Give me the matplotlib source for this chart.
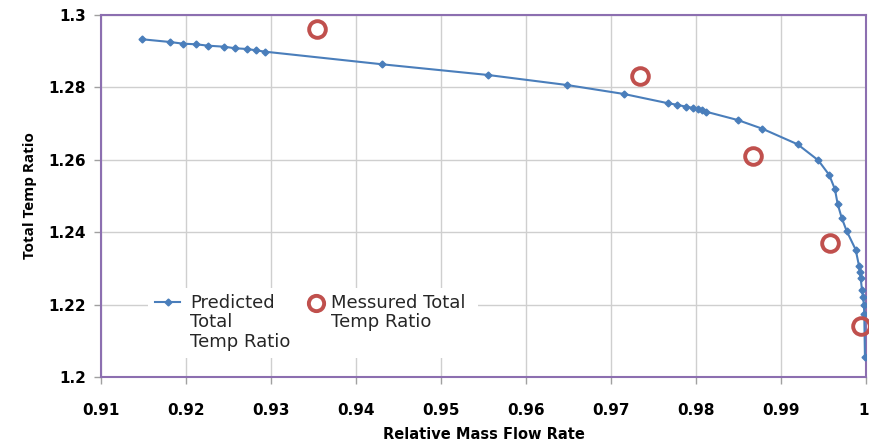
import matplotlib
matplotlib.use('Agg')
import matplotlib.pyplot as plt
import matplotlib.transforms as mtransforms
from matplotlib.patches import Rectangle

# ── Data ──────────────────────────────────────────────────────────────────────
pred_x = [0.91486, 0.91812, 0.91968, 0.92118, 0.92262, 0.92451, 0.92580, 0.92721,
          0.92820, 0.92933, 0.94309, 0.95553, 0.96482, 0.97153, 0.97674, 0.97773,
          0.97882, 0.97968, 0.98027, 0.98067, 0.98118, 0.98491, 0.98780, 0.99196,
          0.99439, 0.99568, 0.99635, 0.99667, 0.99714, 0.99773, 0.99879, 0.99918,
          0.99929, 0.99938, 0.99953, 0.99965, 0.99976, 0.99980, 0.99988]
pred_y = [1.29329, 1.29254, 1.29207, 1.29191, 1.29152, 1.29124, 1.29080, 1.29061,
          1.29025, 1.28986, 1.28638, 1.28343, 1.28066, 1.27818, 1.27561, 1.27522,
          1.27467, 1.27431, 1.27395, 1.27367, 1.27329, 1.27099, 1.26859, 1.26428,
          1.25986, 1.25580, 1.25185, 1.24779, 1.24401, 1.24033, 1.23517, 1.23072,
          1.22890, 1.22732, 1.22409, 1.22210, 1.21989, 1.21740, 1.20552]

meas_x = [0.93541, 0.97341, 0.98671, 0.99576, 0.99941]
meas_y = [1.29613, 1.28315, 1.26105, 1.23702, 1.21409]

x_ticks = [0.91, 0.92, 0.93, 0.94, 0.95, 0.96, 0.97, 0.98, 0.99, 1.0]
x_labels = ['0.91', '0.92', '0.93', '0.94', '0.95', '0.96', '0.97', '0.98', '0.99', '1']
y_ticks = [1.2, 1.22, 1.24, 1.26, 1.28, 1.3]
y_labels = ['1.2', '1.22', '1.24', '1.26', '1.28', '1.3']

pred_label = 'Predicted\nTotal\nTemp Ratio'
meas_label = 'Messured Total\nTemp Ratio'

BLUE = '#4A7EBB'
RED = '#C0504D'

# ── Figure ────────────────────────────────────────────────────────────────────
plt.rcParams['font.family'] = ['DejaVu Sans']

fig = plt.figure(figsize=(8.69, 4.41), dpi=100)
ax = fig.add_axes([0.1162, 0.1451, 0.8803, 0.8209])

ax.plot(pred_x, pred_y, color=BLUE, lw=1.5, marker='D', ms=3.5, zorder=3)
ax.plot(meas_x, meas_y, ls='none', marker='o', ms=12, mfc='none',
        mec=RED, mew=2.8, zorder=4, clip_on=False)

ax.set_xlim(0.91, 1.0)
ax.set_ylim(1.2, 1.3)
ax.set_xticks(x_ticks)
ax.set_xticklabels(x_labels, fontsize=11, fontweight='bold')
ax.set_yticks(y_ticks)
ax.set_yticklabels(y_labels, fontsize=11, fontweight='bold')
ax.tick_params(axis='both', direction='out', length=5, color='#A0A0A0', width=1)
ax.tick_params(axis='x', pad=14)
ax.tick_params(axis='y', pad=6)

# last x label sits right at the figure edge -> keep it inside
last = ax.get_xticklabels()[-1]
last.set_ha('right')
last.set_transform(last.get_transform() +
                   mtransforms.ScaledTranslation(3 / 100, 0, fig.dpi_scale_trans))

ax.grid(True, color='#CFCFCF', lw=1)
ax.set_axisbelow(True)
for s in ax.spines.values():
    s.set_color('#8C6FB0')
    s.set_linewidth(1.5)

ax.set_xlabel('Relative Mass Flow Rate', fontsize=10.5, fontweight='bold', labelpad=6)
ax.set_ylabel('Total Temp Ratio', family='Open Sans', fontsize=11,
              fontweight='bold', labelpad=8)

# ── Legend (Excel style: white box, handle on first text line) ────────────────
ax.add_patch(Rectangle((0.061, 0.052), 0.432, 0.194, transform=ax.transAxes,
                       facecolor='white', edgecolor='none', zorder=5))
ax.plot([0.0706, 0.1033], [0.2072, 0.2072], transform=ax.transAxes,
        color=BLUE, lw=1.5, zorder=6)
ax.plot([0.0870], [0.2072], transform=ax.transAxes, color=BLUE,
        marker='D', ms=3.5, zorder=6)
ax.text(0.1163, 0.1506, pred_label, transform=ax.transAxes, fontsize=13,
        va='center', ha='left', linespacing=1.1, color='#262626', zorder=6)
ax.plot([0.281], [0.2044], transform=ax.transAxes, ls='none', marker='o',
        ms=11, mfc='none', mec=RED, mew=2.8, zorder=6)
ax.text(0.3007, 0.1780, meas_label, transform=ax.transAxes, fontsize=13,
        va='center', ha='left', linespacing=1.1, color='#262626', zorder=6)

fig.savefig('out.png', dpi=100)
